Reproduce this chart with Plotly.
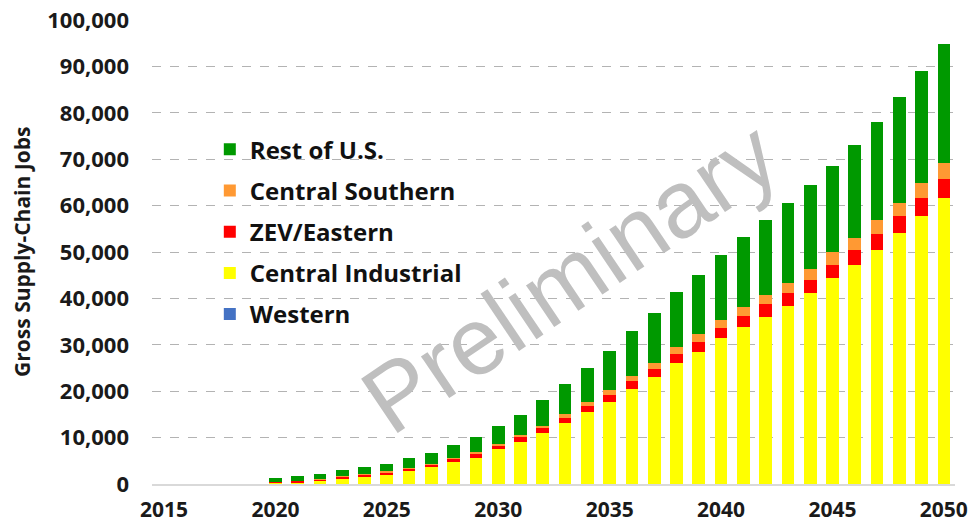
import plotly.graph_objects as go

years = list(range(2020, 2051))

western = [0] * 31
central_industrial = [250, 400, 700, 1200, 1600, 2100, 2800, 3600, 4700, 5700,
                      7500, 9100, 11100, 13100, 15600, 17700, 20400, 23100, 26000, 28400,
                      31400, 33800, 36000, 38400, 41100, 44300, 47200, 50400, 54000, 57800,
                      61600]
zev_eastern = [200, 250, 300, 350, 350, 400, 500, 500, 700, 800,
               800, 1100, 1000, 1200, 1200, 1500, 1700, 1700, 2000, 2100,
               2300, 2400, 2700, 2800, 2900, 3000, 3200, 3500, 3800, 3800,
               4100]
central_southern = [50, 50, 100, 100, 200, 200, 200, 300, 300, 500,
                    300, 300, 500, 700, 900, 1000, 1200, 1300, 1500, 1800,
                    1600, 1900, 2000, 2200, 2400, 2600, 2700, 2900, 2800, 3200,
                    3500]
rest_of_us = [800, 1000, 1100, 1300, 1600, 1700, 2000, 2300, 2600, 3200,
              3800, 4400, 5400, 6500, 7400, 8500, 9600, 10800, 11800, 12700,
              14100, 15100, 16200, 17200, 18100, 18600, 19900, 21200, 22700, 24200,
              25600]

x_ticks = [2015, 2020, 2025, 2030, 2035, 2040, 2045, 2050]
y_ticks = list(range(0, 100001, 10000))

series = [
    ("Western", western, "#4472C4"),
    ("Central Industrial", central_industrial, "#FFFF00"),
    ("ZEV/Eastern", zev_eastern, "#FF0000"),
    ("Central Southern", central_southern, "#FF9933"),
    ("Rest of U.S.", rest_of_us, "#009900"),
]

fig = go.Figure()
n = len(series)
for i, (name, vals, col) in enumerate(series):
    fig.add_trace(go.Bar(x=years, y=vals, name=name, marker_color=col,
                         marker_line_width=0, legendgroup=name,
                         legendrank=n - i))

y_tick_font = dict(family="Open Sans", size=22, color="#1a1a1a", weight="bold")
x_tick_font = dict(family="Open Sans", size=21, color="#1a1a1a", weight="bold")

fig.update_layout(
    barmode="stack",
    bargap=0.43,
    width=973, height=524,
    margin=dict(l=152, r=18, t=20, b=40, autoexpand=False),
    plot_bgcolor="white", paper_bgcolor="white",
    showlegend=True,
    legend=dict(x=0.072, y=0.769, xanchor="left", yanchor="top",
                traceorder="grouped", tracegroupgap=7,
                font=dict(family="Open Sans", size=24, color="#111111", weight="bold"),
                bgcolor="rgba(0,0,0,0)"),
    xaxis=dict(range=[2014.46, 2050.5], tickmode="array", tickvals=x_ticks,
               ticktext=[str(t) for t in x_ticks], tickfont=x_tick_font,
               showgrid=False, showline=True, linecolor="#d9d9d9", linewidth=2,
               ticks="", ticklabelstandoff=6, automargin=False),
    yaxis=dict(range=[0, 100000], tickmode="array", tickvals=y_ticks,
               ticktext=[f"{v:,}" for v in y_ticks], tickfont=y_tick_font,
               showgrid=True, gridcolor="#b3b3b3", griddash="dash", gridwidth=1,
               zeroline=False, showline=False, ticks="", ticklabelstandoff=22,
               automargin=False),
)

# y-axis title
fig.add_annotation(text="Gross Supply-Chain Jobs", xref="paper", yref="paper",
                   x=-0.162, y=0.5, xanchor="center", yanchor="middle",
                   showarrow=False, textangle=-90,
                   font=dict(family="Open Sans", size=21, color="#1a1a1a",
                             weight="bold"))

# watermark
fig.add_annotation(text="Preliminary", xref="paper", yref="paper",
                   x=0.52, y=0.447, xanchor="center", yanchor="middle",
                   showarrow=False, textangle=-34,
                   font=dict(family="Liberation Sans", size=95, color="#BFBFBF"))

fig.write_html("out.html", config={"displayModeBar": False},
               post_script="document.body.style.margin='0';")
